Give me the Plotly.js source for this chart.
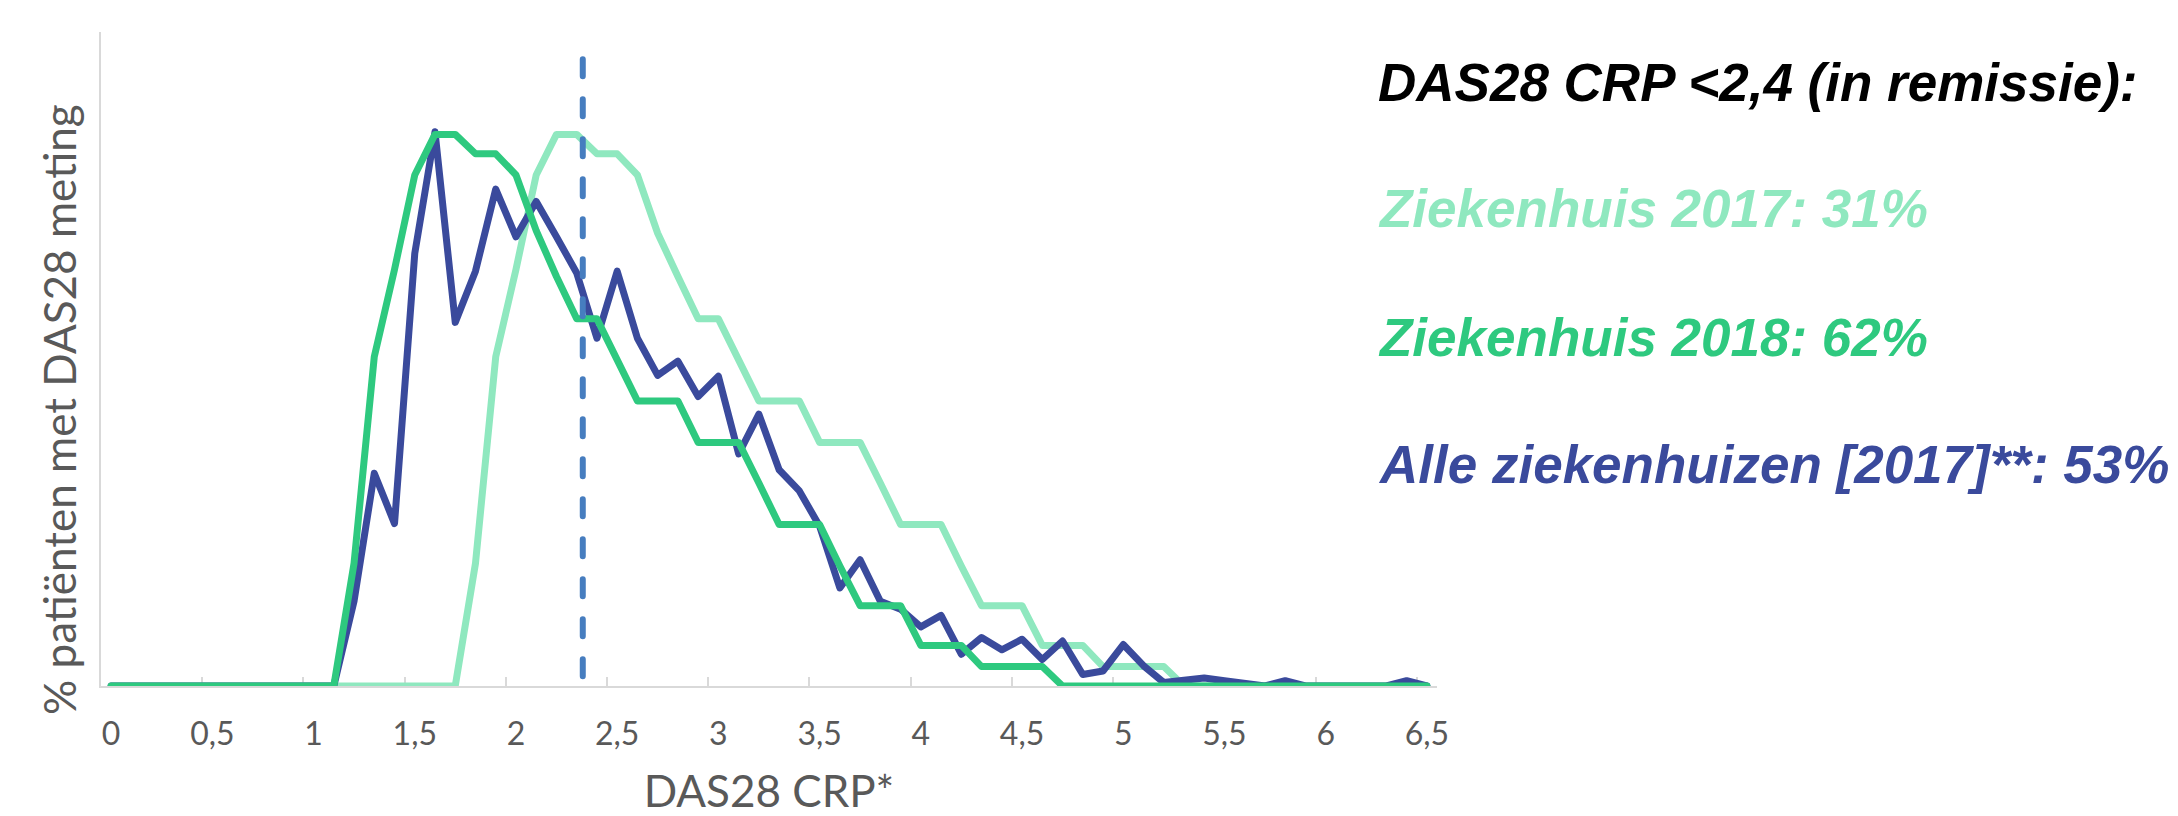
<!DOCTYPE html>
<html>
<head>
<meta charset="utf-8">
<script src="https://cdn.plot.ly/plotly-3.0.1.min.js"></script>
<style>
  html, body { margin: 0; padding: 0; background: #ffffff; }
  #chart { width: 2178px; height: 816px; }
  .js-line { stroke-linejoin: round !important; stroke-linecap: round !important; }
</style>
</head>
<body>
<div id="chart"></div>
<script>
// DAS28 CRP categories (0 to 6,5 in steps of 0,1)
const das28 = [0, 0.1, 0.2, 0.3, 0.4, 0.5, 0.6, 0.7, 0.8, 0.9,
  1.0, 1.1, 1.2, 1.3, 1.4, 1.5, 1.6, 1.7, 1.8, 1.9,
  2.0, 2.1, 2.2, 2.3, 2.4, 2.5, 2.6, 2.7, 2.8, 2.9,
  3.0, 3.1, 3.2, 3.3, 3.4, 3.5, 3.6, 3.7, 3.8, 3.9,
  4.0, 4.1, 4.2, 4.3, 4.4, 4.5, 4.6, 4.7, 4.8, 4.9,
  5.0, 5.1, 5.2, 5.3, 5.4, 5.5, 5.6, 5.7, 5.8, 5.9,
  6.0, 6.1, 6.2, 6.3, 6.4, 6.5];

// % patients per DAS28 value (relative scale)
const ziekenhuis2017 = [0, 0, 0, 0, 0, 0, 0, 0, 0, 0,
  0, 0, 0, 0, 0, 0, 0, 0, 1.39, 3.73,
  4.72, 5.79, 6.25, 6.25, 6.03, 6.03, 5.79, 5.13, 4.64, 4.16,
  4.16, 3.68, 3.23, 3.23, 3.23, 2.76, 2.76, 2.76, 2.30, 1.83,
  1.83, 1.83, 1.36, 0.91, 0.91, 0.91, 0.46, 0.46, 0.46, 0.22,
  0.22, 0.22, 0.22, 0, 0, 0, 0, 0, 0, 0,
  0, 0, 0, 0, 0, 0];

const ziekenhuis2018 = [0, 0, 0, 0, 0, 0, 0, 0, 0, 0,
  0, 0, 1.39, 3.73, 4.72, 5.79, 6.25, 6.25, 6.03, 6.03,
  5.79, 5.16, 4.64, 4.16, 4.16, 3.68, 3.23, 3.23, 3.23, 2.76,
  2.76, 2.76, 2.30, 1.83, 1.83, 1.83, 1.36, 0.91, 0.91, 0.91,
  0.46, 0.46, 0.46, 0.22, 0.22, 0.22, 0.22, 0, 0, 0,
  0, 0, 0, 0, 0, 0, 0, 0, 0, 0,
  0, 0, 0, 0, 0, 0];

const alleZiekenhuizen2017 = [0, 0, 0, 0, 0, 0, 0, 0, 0, 0,
  0, 0, 0.96, 2.41, 1.84, 4.90, 6.28, 4.12, 4.70, 5.63,
  5.09, 5.49, 5.09, 4.68, 3.94, 4.70, 3.94, 3.52, 3.68, 3.28,
  3.51, 2.63, 3.08, 2.45, 2.21, 1.81, 1.11, 1.43, 0.96, 0.87,
  0.67, 0.80, 0.36, 0.55, 0.41, 0.53, 0.30, 0.51, 0.13, 0.17,
  0.47, 0.23, 0.04, 0.06, 0.09, 0.06, 0.02, 0, 0.06, 0,
  0, 0, 0, 0, 0.06, 0];

// remission threshold marker (DAS28 CRP < 2,4)
const thresholdX = [2.33, 2.33];
const thresholdY = [7.10, 0];

// axis ticks
const xTickVals = [0, 0.5, 1, 1.5, 2, 2.5, 3, 3.5, 4, 4.5, 5, 5.5, 6, 6.5];
const xTickText = ['0', '0,5', '1', '1,5', '2', '2,5', '3', '3,5', '4', '4,5', '5', '5,5', '6', '6,5'];
const xTickBounds = [0.45, 0.95, 1.45, 1.95, 2.45, 2.95, 3.45, 3.95, 4.45, 4.95, 5.45, 5.95, 6.45];

// texts
const titleX = 'DAS28 CRP*';
const titleY = '% patiënten met DAS28 meting';
const sideTexts = [
  'DAS28 CRP <2,4 (in remissie):',
  'Ziekenhuis 2017: 31%',
  'Ziekenhuis 2018: 62%',
  'Alle ziekenhuizen [2017]**: 53%'
];

const colLight = '#8fe8bf';
const colGreen = '#2ec97f';
const colBlue = '#3a4a9c';
const colDash = '#467dbf';
const axisFont = 'Lato, "Open Sans", sans-serif';
const sideColors = ['#000000', colLight, colGreen, colBlue];
const sideY = [0.9235, 0.7294, 0.5336, 0.3394];

const traces = [
  {x: das28, y: ziekenhuis2017, type: 'scatter', mode: 'lines', name: 'Ziekenhuis 2017',
   line: {color: colLight, width: 7}, cliponaxis: false, hoverinfo: 'x+y'},
  {x: das28, y: alleZiekenhuizen2017, type: 'scatter', mode: 'lines', name: 'Alle ziekenhuizen [2017]',
   line: {color: colBlue, width: 7}, cliponaxis: false, hoverinfo: 'x+y'},
  {x: das28, y: ziekenhuis2018, type: 'scatter', mode: 'lines', name: 'Ziekenhuis 2018',
   line: {color: colGreen, width: 7}, cliponaxis: false, hoverinfo: 'x+y'},
  {x: thresholdX, y: thresholdY, type: 'scatter', mode: 'lines', name: 'DAS28 CRP 2,4',
   line: {color: colDash, width: 6, dash: '17px,23px'}, cliponaxis: false, hoverinfo: 'skip'}
];

const annotations = sideTexts.map(function (t, i) {
  return {
    text: t, xref: 'paper', yref: 'paper', x: 0.9543, y: sideY[i],
    xanchor: 'left', yanchor: 'middle', showarrow: false,
    font: {family: '"Liberation Sans", Arial, sans-serif', size: 53, color: sideColors[i],
           weight: 'bold', style: 'italic'}
  };
});
// vertical axis title (placed as rotated text, centred like the original)
annotations.push({
  text: titleY, xref: 'paper', yref: 'paper', x: -0.0314, y: 0.422,
  xanchor: 'center', yanchor: 'middle', textangle: -90, showarrow: false,
  font: {family: axisFont, size: 44, color: '#595959'}
});

const layout = {
  width: 2178, height: 816,
  margin: {l: 101, r: 741, t: 32, b: 130, pad: 0},
  paper_bgcolor: '#ffffff', plot_bgcolor: '#ffffff',
  showlegend: false,
  font: {family: axisFont, color: '#595959'},
  xaxis: {
    range: [-0.05, 6.55], tickmode: 'array', tickvals: xTickVals, ticktext: xTickText,
    ticks: '', showgrid: false, zeroline: false, showline: true,
    linecolor: '#d9d9d9', linewidth: 2, layer: 'below traces',
    tickfont: {family: axisFont, size: 32, color: '#595959'},
    ticklabelstandoff: 19,
    minor: {tickmode: 'array', tickvals: xTickBounds, ticks: 'inside', ticklen: 9,
            tickwidth: 2, tickcolor: '#d9d9d9', showgrid: false},
    title: {text: titleX, font: {family: axisFont, size: 44, color: '#595959'}, standoff: 44}
  },
  yaxis: {
    range: [0, 7.41], showticklabels: false, ticks: '', showgrid: false, zeroline: false,
    showline: true, linecolor: '#d9d9d9', linewidth: 2, layer: 'below traces'
  },
  annotations: annotations
};

Plotly.newPlot('chart', traces, layout, {staticPlot: true, displayModeBar: false});
</script>
</body>
</html>
